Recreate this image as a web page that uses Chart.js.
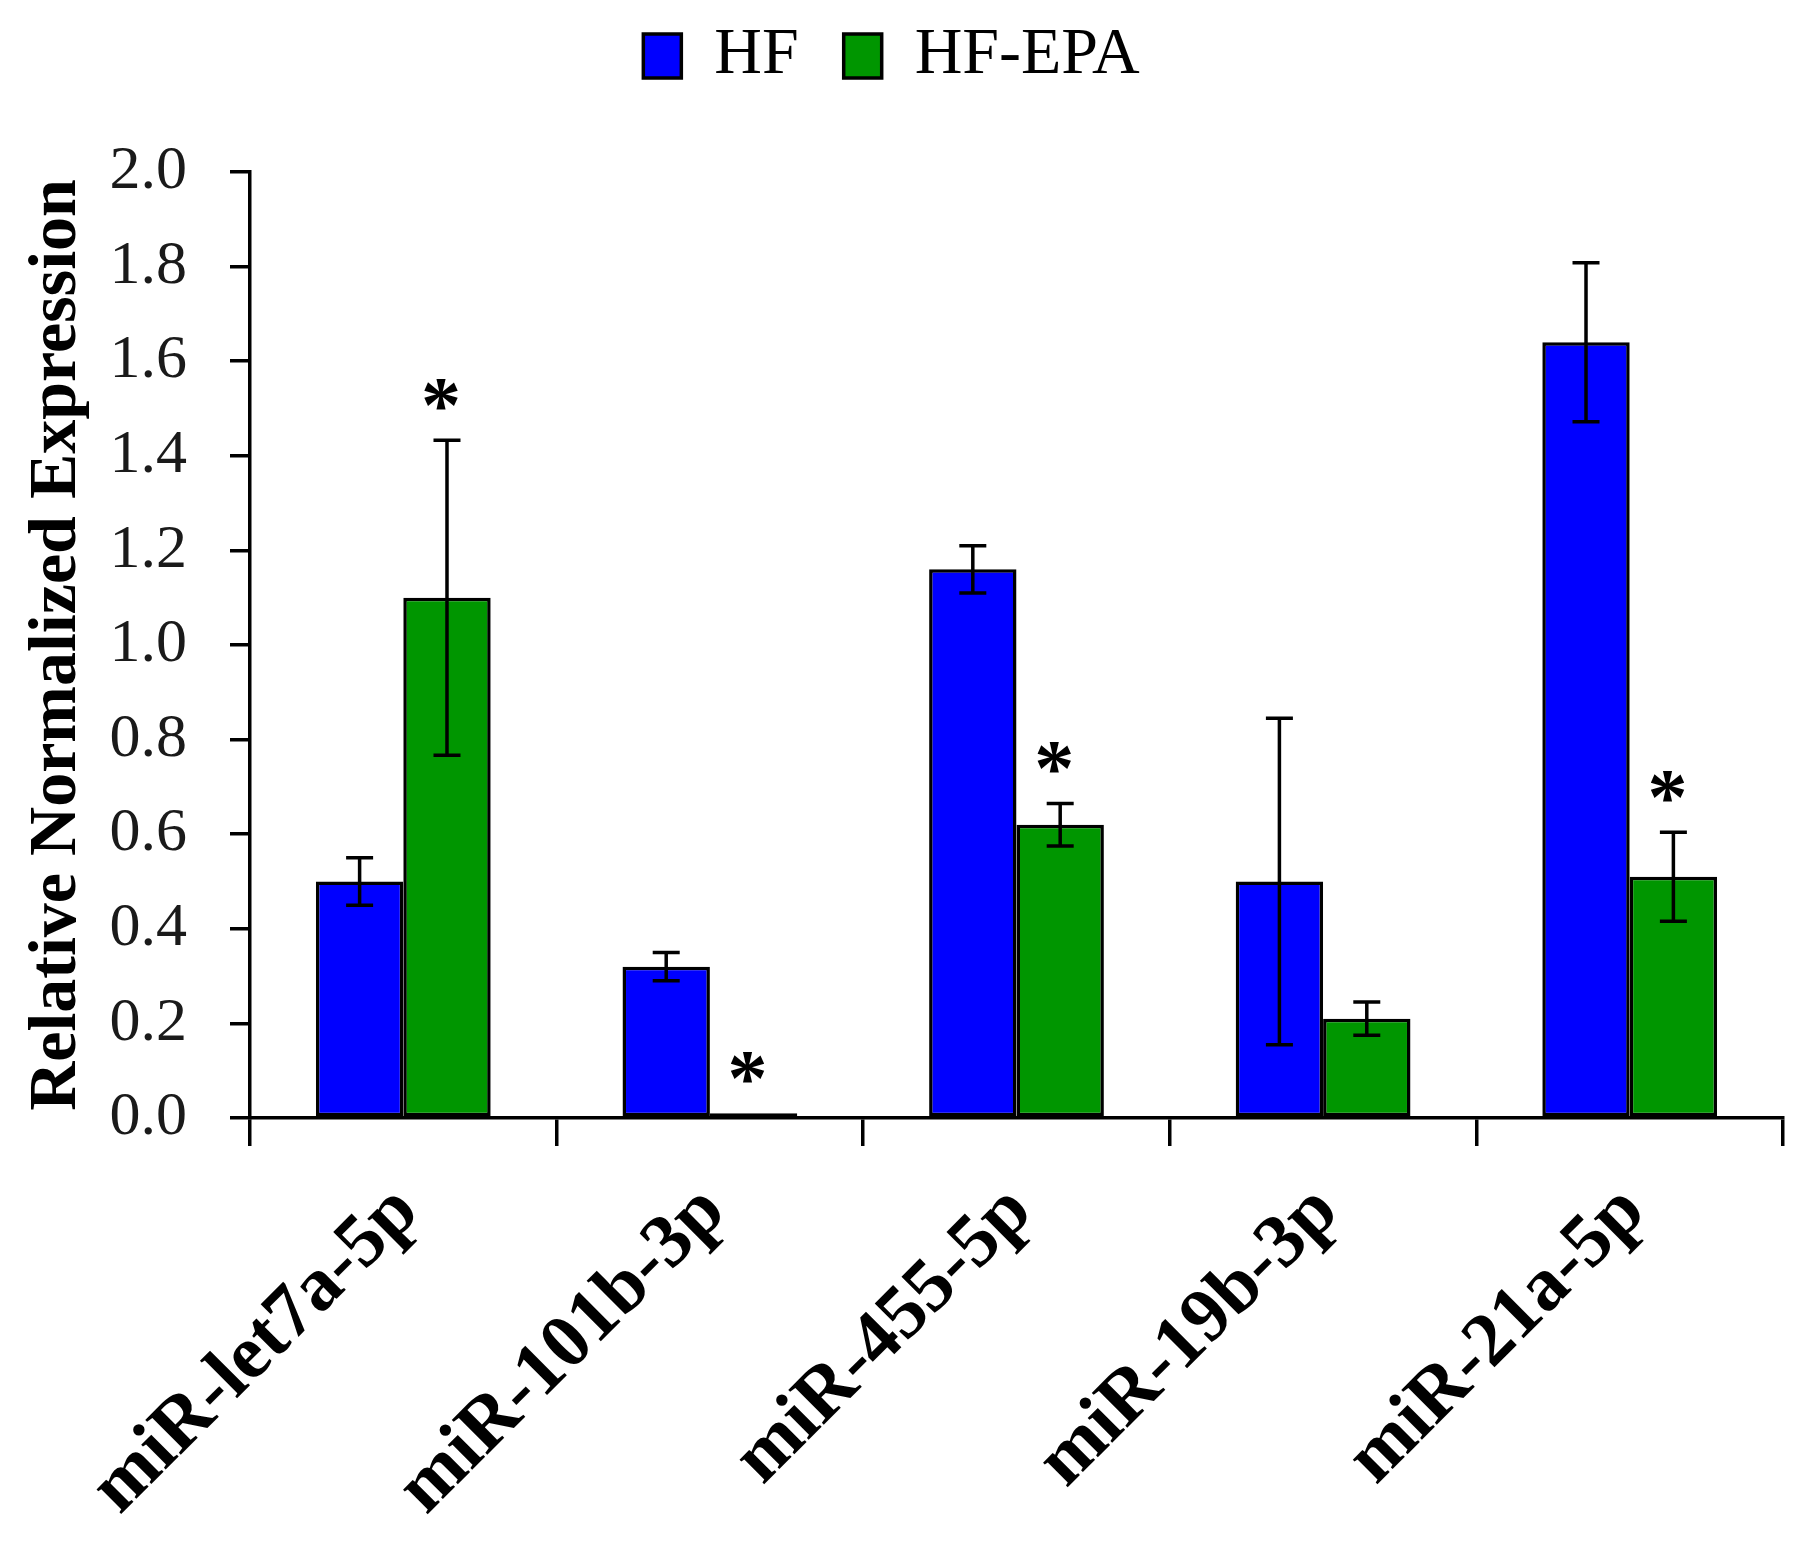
<!DOCTYPE html>
<html>
<head>
<meta charset="utf-8">
<script src="https://cdn.jsdelivr.net/npm/chart.js@4.4.1/dist/chart.umd.min.js"></script>
<style>
  html, body { margin: 0; padding: 0; background: #ffffff; }
  #wrap { width: 1817px; height: 1554px; position: relative; }
</style>
</head>
<body>
<div id="wrap"><canvas id="c"></canvas></div>
<script>
const categories = ['miR-let7a-5p', 'miR-101b-3p', 'miR-455-5p', 'miR-19b-3p', 'miR-21a-5p'];
const seriesNames = ['HF', 'HF-EPA'];
const hfValues = [0.50, 0.32, 1.16, 0.50, 1.64];
const hfErrors = [0.05, 0.03, 0.05, 0.345, 0.168];
const epaValues = [1.10, 0.01, 0.62, 0.21, 0.51];
const epaErrors = [0.333, 0.0, 0.045, 0.035, 0.094];
const epaSignificant = [true, true, true, false, true];
const yTickValues = [0.0, 0.2, 0.4, 0.6, 0.8, 1.0, 1.2, 1.4, 1.6, 1.8, 2.0];
const yAxisTitle = 'Relative Normalized Expression';

const SERIF = "'Liberation Serif', 'Times New Roman', serif";

const errorBarPlugin = {
  id: 'errorBars',
  afterDatasetsDraw(chart) {
    const ctx = chart.ctx;
    const yScale = chart.scales.y;
    const errs = [hfErrors, epaErrors];
    ctx.save();
    ctx.strokeStyle = '#000000';
    ctx.lineWidth = 3.5;
    chart.data.datasets.forEach((ds, di) => {
      const meta = chart.getDatasetMeta(di);
      meta.data.forEach((bar, j) => {
        const v = ds.data[j];
        const e = errs[di][j];
        if (!e) return;
        const x = bar.x;
        const yT = yScale.getPixelForValue(v + e);
        const yB = yScale.getPixelForValue(v - e);
        const cap = 13.5;
        ctx.beginPath();
        ctx.moveTo(x, yT); ctx.lineTo(x, yB);
        ctx.moveTo(x - cap, yT); ctx.lineTo(x + cap, yT);
        ctx.moveTo(x - cap, yB); ctx.lineTo(x + cap, yB);
        ctx.stroke();
      });
    });
    // significance asterisks over HF-EPA bars
    const meta = chart.getDatasetMeta(1);
    ctx.fillStyle = '#000000';
    ctx.font = "bold 80px " + SERIF;
    ctx.textAlign = 'left';
    ctx.textBaseline = 'alphabetic';
    const m = ctx.measureText('*');
    const asc = m.actualBoundingBoxAscent, desc = m.actualBoundingBoxDescent;
    const lft = m.actualBoundingBoxLeft, rgt = m.actualBoundingBoxRight;
    meta.data.forEach((bar, j) => {
      if (!epaSignificant[j]) return;
      const top = yScale.getPixelForValue(epaValues[j] + epaErrors[j]);
      const cy = top - 46;
      const cx = bar.x - 3;
      const bx = cx - (rgt - lft) / 2 + lft;
      const by = cy + (asc - desc) / 2;
      ctx.fillText('*', bx, by);
    });
    ctx.restore();
  }
};

new Chart(document.getElementById('c'), {
  type: 'bar',
  data: {
    labels: categories,
    datasets: [
      {
        label: seriesNames[0],
        data: hfValues,
        backgroundColor: '#0000ff',
        borderColor: '#000000',
        borderWidth: 3.5,
        borderSkipped: false,
        categoryPercentage: 0.57,
        barPercentage: 1.0
      },
      {
        label: seriesNames[1],
        data: epaValues,
        backgroundColor: '#009600',
        borderColor: '#000000',
        borderWidth: 3.5,
        borderSkipped: false,
        categoryPercentage: 0.57,
        barPercentage: 1.0
      }
    ]
  },
  options: {
    responsive: true,
    maintainAspectRatio: false,
    devicePixelRatio: 1,
    animation: false,
    layout: { padding: { top: -22, right: 34, bottom: 0, left: 0 } },
    plugins: {
      tooltip: { enabled: false },
      legend: {
        display: true,
        position: 'top',
        weight: 3000,
        labels: {
          boxWidth: 38,
          boxHeight: 44,
          padding: 45,
          color: '#000000',
          font: { family: SERIF, size: 66 }
        }
      },
      title: {
        display: true,
        text: ' ',
        position: 'top',
        weight: 500,
        padding: 0,
        font: { size: 73, lineHeight: 1 }
      }
    },
    scales: {
      x: {
        type: 'category',
        offset: true,
        afterFit(scale) { scale.height = 436; },
        border: { display: true, color: '#000000', width: 3.5 },
        grid: {
          display: true,
          offset: true,
          drawOnChartArea: false,
          drawTicks: true,
          tickLength: 28,
          color: '#000000',
          lineWidth: 3.5
        },
        ticks: {
          autoSkip: false,
          minRotation: 45,
          maxRotation: 45,
          padding: 22,
          labelOffset: 4,
          color: '#000000',
          font: { family: SERIF, size: 76, weight: 'bold' }
        }
      },
      y: {
        min: 0,
        max: 2.0,
        afterFit(scale) { scale.width = 250; },
        afterBuildTicks(scale) { scale.ticks = yTickValues.map(v => ({ value: v })); },
        border: { display: true, color: '#000000', width: 3.5 },
        grid: {
          display: true,
          drawOnChartArea: false,
          drawTicks: true,
          tickLength: 20,
          color: '#000000',
          lineWidth: 3.5
        },
        ticks: {
          padding: 43,
          color: '#1a1a1a',
          font: { family: SERIF, size: 62 },
          callback: (v) => Number(v).toFixed(1)
        },
        title: {
          display: true,
          text: yAxisTitle,
          color: '#000000',
          padding: { top: 17, bottom: 0 },
          font: { family: SERIF, size: 68, weight: 'bold' }
        }
      }
    }
  },
  plugins: [errorBarPlugin]
});
</script>
</body>
</html>
